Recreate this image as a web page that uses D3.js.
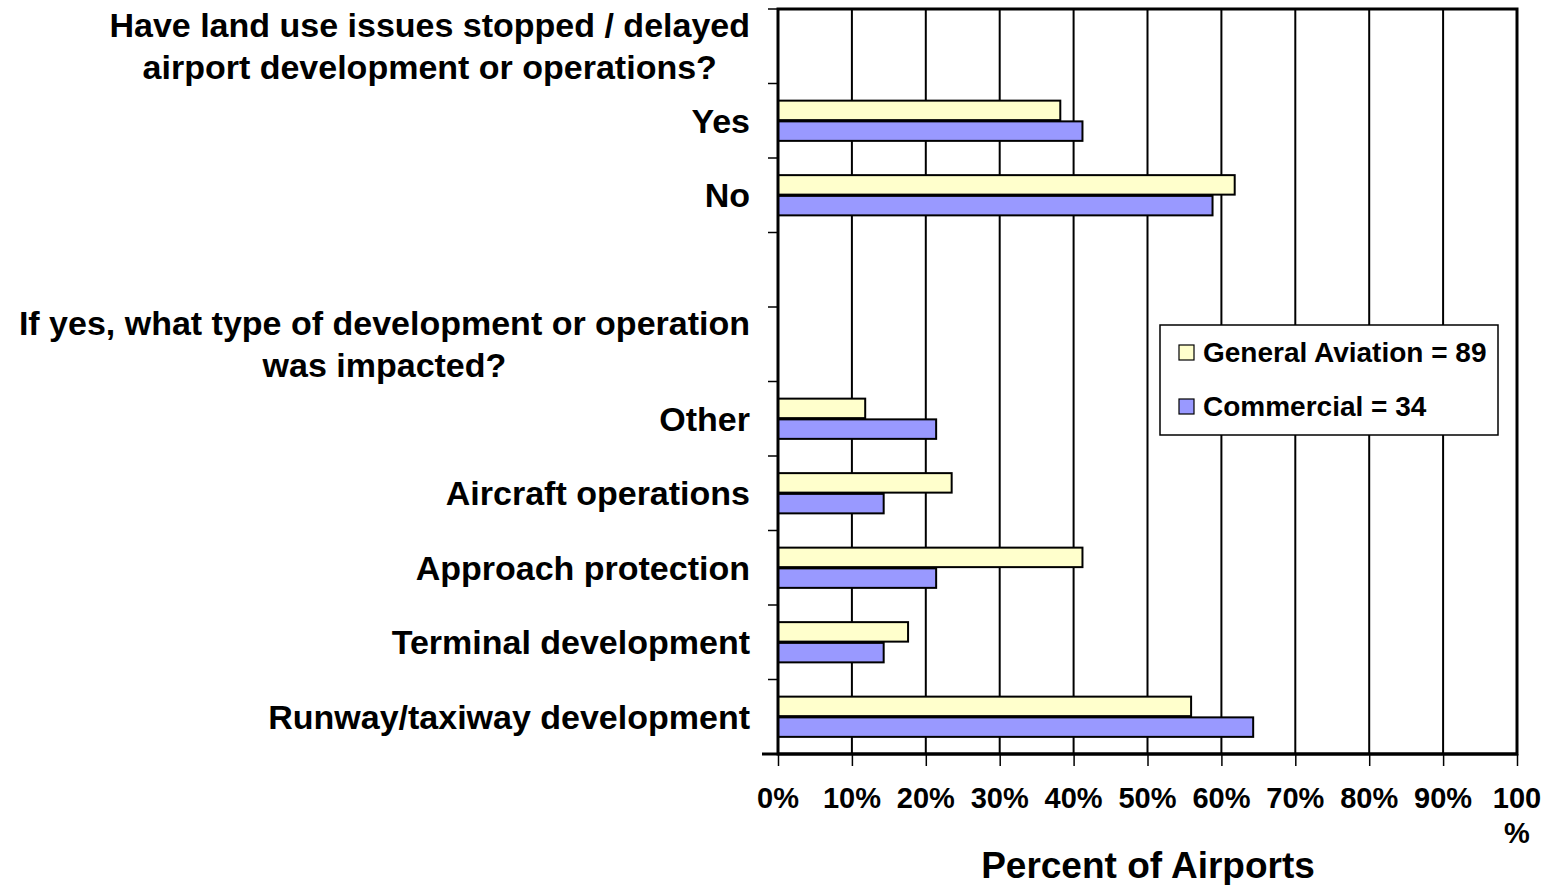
<!DOCTYPE html>
<html>
<head>
<meta charset="utf-8">
<script src="https://cdn.jsdelivr.net/npm/d3@7"></script>
<style>
  body { margin: 0; background: #fff; }
  text { font-family: "Liberation Sans", Arial, sans-serif; font-weight: bold; fill: #000; }
</style>
</head>
<body>
<div id="chart"></div>
<script>
var width = 1547, height = 885;

// rows from top to bottom, header rows have no bars
var categories = [
  ['Have land use issues stopped / delayed', 'airport development or operations?'],
  ['Yes'],
  ['No'],
  [],
  ['If yes, what type of development or operation', 'was impacted?'],
  ['Other'],
  ['Aircraft operations'],
  ['Approach protection'],
  ['Terminal development'],
  ['Runway/taxiway development']
];
var generalAviation = [null, 38.2, 61.8, null, null, 11.8, 23.5, 41.2, 17.6, 55.9];
var commercial      = [null, 41.2, 58.8, null, null, 21.4, 14.3, 21.4, 14.3, 64.3];
var seriesNames = ['General Aviation = 89', 'Commercial = 34'];
var seriesColors = ['#FFFFCC', '#9999FF'];
var tickValues = [0, 10, 20, 30, 40, 50, 60, 70, 80, 90, 100];

var plot = { left: 778, right: 1517, top: 9, bottom: 754 };

var svg = d3.select('#chart').append('svg')
  .attr('width', width)
  .attr('height', height);

var x = d3.scaleLinear().domain([0, 100]).range([plot.left, plot.right]);

var y = d3.scaleBand()
  .domain(d3.range(categories.length))
  .range([plot.top, plot.bottom])
  .paddingInner(0.46)
  .paddingOuter(0.23);

var inner = d3.scaleBand().domain([0, 1]).range([0, y.bandwidth()]).paddingInner(0.06);

var step = y.step();

// gridlines
svg.append('g')
  .selectAll('line')
  .data(tickValues.slice(1, -1))
  .enter().append('line')
  .attr('x1', d => x(d)).attr('x2', d => x(d))
  .attr('y1', plot.top).attr('y2', plot.bottom)
  .attr('stroke', '#000').attr('stroke-width', 2);

// bars
var rows = categories.map((c, i) => ({ i: i, vals: [generalAviation[i], commercial[i]] }))
  .filter(d => d.vals[0] != null);

var rowG = svg.append('g').selectAll('g')
  .data(rows)
  .enter().append('g')
  .attr('transform', d => 'translate(0,' + y(d.i) + ')');

rowG.selectAll('rect')
  .data(d => d.vals.map((v, k) => ({ v: v, k: k })))
  .enter().append('rect')
  .attr('x', x(0))
  .attr('y', d => inner(d.k))
  .attr('width', d => x(d.v) - x(0))
  .attr('height', inner.bandwidth())
  .attr('fill', d => seriesColors[d.k])
  .attr('stroke', '#000')
  .attr('stroke-width', 2);

// frame
svg.append('rect')
  .attr('x', plot.left).attr('y', plot.top)
  .attr('width', plot.right - plot.left).attr('height', plot.bottom - plot.top)
  .attr('fill', 'none').attr('stroke', '#000').attr('stroke-width', 3);

// left axis ticks at row boundaries
svg.append('g')
  .selectAll('line')
  .data(d3.range(categories.length + 1))
  .enter().append('line')
  .attr('x1', plot.left - 10).attr('x2', plot.left)
  .attr('y1', d => plot.top + d * step).attr('y2', d => plot.top + d * step)
  .attr('stroke', '#000').attr('stroke-width', 1.5);

// bottom axis
var xAxis = svg.append('g')
  .attr('transform', 'translate(0,' + plot.bottom + ')')
  .call(d3.axisBottom(x).tickValues(tickValues).tickSize(12).tickFormat(''));
xAxis.select('.domain').attr('stroke-width', 3).attr('d', 'M' + (plot.left - 16) + ',0H' + plot.right);
xAxis.selectAll('.tick line').attr('stroke-width', 1.5);

svg.append('g').selectAll('text')
  .data(tickValues)
  .enter().append('text')
  .attr('x', d => x(d))
  .attr('y', 808)
  .attr('text-anchor', 'middle')
  .style('font-size', '29px')
  .each(function(d) {
    var t = d3.select(this);
    if (d === 100) {
      t.append('tspan').attr('x', x(d)).text('100');
      t.append('tspan').attr('x', x(d)).attr('dy', 35).text('%');
    } else {
      t.text(d + '%');
    }
  });

svg.append('text')
  .attr('x', 1148).attr('y', 878)
  .attr('text-anchor', 'middle')
  .style('font-size', '37px')
  .text('Percent of Airports');

// category labels, multi-line ones are centred as a block ending at the axis
var labelRight = 750, lineGap = 42;
categories.forEach(function(lines, i) {
  if (!lines.length) return;
  var cy = y(i) + y.bandwidth() / 2;
  var t = svg.append('text').style('font-size', '34px');
  var y0 = cy + 12 - (lines.length - 1) * lineGap / 2;
  lines.forEach(function(l, k) {
    t.append('tspan').attr('y', y0 + k * lineGap).text(l);
  });
  if (lines.length === 1) {
    t.attr('text-anchor', 'end').selectAll('tspan').attr('x', labelRight);
  } else {
    var w = d3.max(t.selectAll('tspan').nodes(), n => n.getComputedTextLength());
    t.attr('text-anchor', 'middle').selectAll('tspan').attr('x', labelRight - w / 2);
  }
});

// legend
var legend = svg.append('g').attr('transform', 'translate(1160,325)');
legend.append('rect')
  .attr('width', 338).attr('height', 110)
  .attr('fill', '#fff').attr('stroke', '#000').attr('stroke-width', 1.5);
var li = legend.selectAll('g.item')
  .data(seriesNames)
  .enter().append('g')
  .attr('class', 'item')
  .attr('transform', (d, i) => 'translate(0,' + (i * 54) + ')');
li.append('rect')
  .attr('x', 19).attr('y', 20).attr('width', 15).attr('height', 15)
  .attr('fill', (d, i) => seriesColors[i])
  .attr('stroke', '#000').attr('stroke-width', 1.2);
li.append('text')
  .attr('x', 43).attr('y', 37)
  .style('font-size', '28px')
  .text(d => d);
</script>
</body>
</html>
